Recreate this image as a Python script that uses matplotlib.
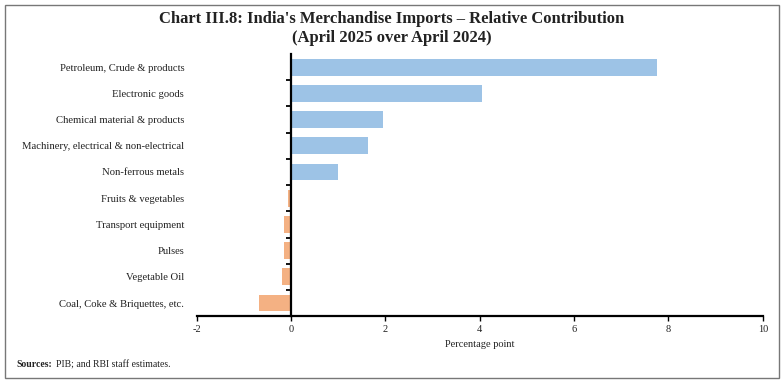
import numpy as np
import matplotlib
matplotlib.use("Agg")
import matplotlib.pyplot as plt
from matplotlib.patches import Rectangle

# Datos del gráfico
categorias = ["Petroleum, Crude & products", "Electronic goods",
              "Chemical material & products", "Machinery, electrical & non-electrical",
              "Non-ferrous metals", "Fruits & vegetables", "Transport equipment",
              "Pulses", "Vegetable Oil", "Coal, Coke & Briquettes, etc."]
valores = [7.76, 4.05, 1.95, 1.62, 0.99, -0.06, -0.16, -0.16, -0.20, -0.69]
xticks = [-2, 0, 2, 4, 6, 8, 10]

plt.rcParams["font.family"] = ["Liberation Serif", "DejaVu Serif"]

fig = plt.figure(figsize=(7.84, 3.86), dpi=100)
ax = fig.add_axes([0.251, 0.181, 0.722, 0.679])

y = np.arange(len(categorias))
colores = ["#9DC3E6" if v >= 0 else "#F4B183" for v in valores]
ax.barh(y, valores, height=0.64, color=colores, edgecolor="none")

ax.set_xlim(-2, 10)
ax.set_ylim(len(categorias) - 0.5, -0.5)
ax.set_xticks(xticks)
ax.set_xticklabels([str(t) for t in xticks])
ax.set_yticks(y)
ax.set_yticklabels(categorias)
# marcas entre categorías (sin la de arriba)
ax.set_yticks(np.arange(1, len(categorias) + 1) - 0.5, minor=True)

# Ejes
for lado in ["top", "right"]:
    ax.spines[lado].set_visible(False)
ax.spines["left"].set_position(("data", 0))
ax.spines["left"].set_linewidth(1.6)
ax.spines["bottom"].set_linewidth(1.6)
ax.tick_params(axis="y", which="major", length=0, pad=77, labelsize=7.7,
               labelcolor="#222222")
ax.tick_params(axis="y", which="minor", length=3.5, width=1.3, direction="out")
ax.tick_params(axis="x", length=3.5, width=1.0, pad=3, labelsize=7.5,
               labelcolor="#222222")

ax.set_xlabel("Percentage point", fontsize=7.5, color="#222222", labelpad=4)

# Título
fig.text(0.5, 0.952, "Chart III.8: India's Merchandise Imports – Relative Contribution",
         ha="center", va="center", fontsize=12, fontweight="bold", color="#222222")
fig.text(0.5, 0.902, "(April 2025 over April 2024)",
         ha="center", va="center", fontsize=12, fontweight="bold", color="#222222")

# Fuente
fig.text(0.021, 0.055, "Sources:", ha="left", va="center", fontsize=7,
         fontweight="bold", color="#222222")
fig.text(0.072, 0.055, "PIB; and RBI staff estimates.", ha="left", va="center",
         fontsize=7, color="#222222")

# Marco
fig.patches.append(Rectangle((0.006, 0.02), 0.988, 0.966, transform=fig.transFigure,
                             fill=False, edgecolor="#777777", linewidth=1.0))

plt.savefig("out.png", dpi=100)
